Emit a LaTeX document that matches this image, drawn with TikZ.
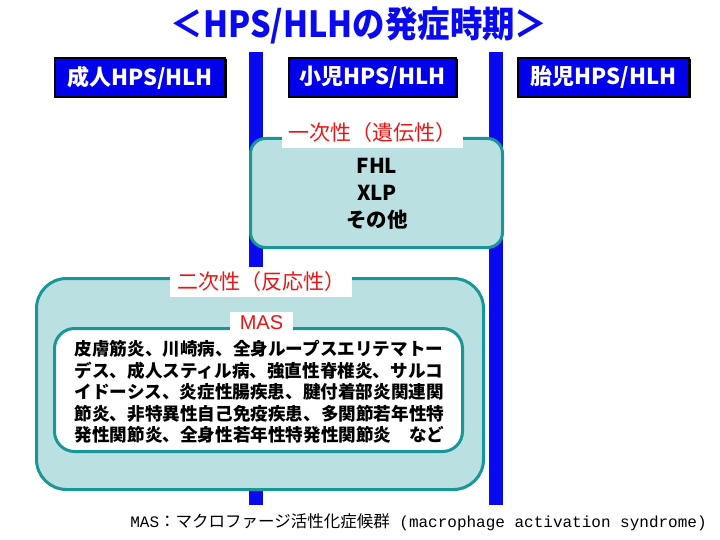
\documentclass[tikz,border=0pt]{standalone}
\usepackage{fontspec}
\usetikzlibrary{shadows}
\newfontfamily\jp{Noto Sans CJK JP}
\newfontfamily\mono{Liberation Mono}
\definecolor{tblue}{RGB}{10,10,240}
\definecolor{hblue}{RGB}{0,0,235}
\definecolor{tealline}{RGB}{25,150,150}
\definecolor{tealfill}{RGB}{186,224,226}
\definecolor{lred}{RGB}{235,20,20}
\begin{document}
\begin{tikzpicture}[x=1pt,y=-1pt,
  bar/.style={fill=tblue,draw=none},
  hdr/.style={fill=hblue,draw=black,line width=1.5pt,minimum height=39pt,
    text=white,inner sep=0pt,font=\jp\bfseries\fontsize{22}{24}\selectfont,
    general shadow={fill=black,shadow xshift=1.5pt,shadow yshift=-1.5pt}},
  group/.style={draw=tealline,fill=tealfill,line width=3pt},
  inner/.style={draw=tealline,fill=white,line width=3pt},
  lbl/.style={fill=white,text=lred,inner sep=0pt,font=\jp\fontsize{21}{24}\selectfont},
  body/.style={text=black,inner sep=0pt}
]
\useasboundingbox (0,0) rectangle (720,540);
\fill[white] (0,0) rectangle (720,540);

% title
\node (title) at (359,25) {\color{tblue}\scalebox{0.9}[1]{\jp\bfseries\fontsize{36}{40}\selectfont ＜HPS/HLHの発症時期＞}};

% vertical bars
\fill[bar] (249,52) rectangle (263,505);
\fill[bar] (489,52) rectangle (503,505);

% header boxes
\node[hdr,minimum width=170pt] (adult) at (140,77.5) {成人HPS/HLH};
\node[hdr,minimum width=167pt] (child) at (372.5,77.5) {小児HPS/HLH};
\node[hdr,minimum width=171pt] (fetal) at (603.5,77.5) {胎児HPS/HLH};

% primary box
\draw[group,rounded corners=15pt] (250.5,138.5) rectangle (502.5,247.5);
\node[lbl,minimum width=181pt,minimum height=32pt] (prim) at (372.5,132.5) {一次性（遺伝性）};
\node[body,align=center,font=\jp\bfseries\fontsize{20.5}{27}\selectfont] (primtext) at (377,194) {FHL\\XLP\\その他};

% secondary box
\draw[group,rounded corners=30pt] (36.5,278.5) rectangle (483.5,489.5);
\node[lbl,minimum width=182pt,minimum height=30pt] (sec) at (261,282) {二次性（反応性）};
\draw[inner,rounded corners=20pt] (54.5,328.5) rectangle (462.5,451.5);
\node[lbl,minimum width=63pt,minimum height=22pt,font=\fontspec{Liberation Sans}\fontsize{20}{22}\selectfont] (mas) at (261.5,323) {MAS};
\node[body,align=left,font=\jp\bfseries\fontsize{17.6}{21.5}\selectfont] (mastext) at (259.5,392) {皮膚筋炎、川崎病、全身ループスエリテマトー\\デス、成人スティル病、強直性脊椎炎、サルコ\\イドーシス、炎症性腸疾患、腱付着部炎関連関\\節炎、非特異性自己免疫疾患、多関節若年性特\\発性関節炎、全身性若年性特発性関節炎　など};

% footnote
\node[body] (foot) at (418.5,522) {{\mono\fontsize{16}{18}\selectfont MAS}{\jp\fontsize{16.5}{18}\selectfont ：マクロファージ活性化症候群}{\mono\fontsize{16}{18}\selectfont{} (macrophage activation syndrome)}};
\end{tikzpicture}
\end{document}
